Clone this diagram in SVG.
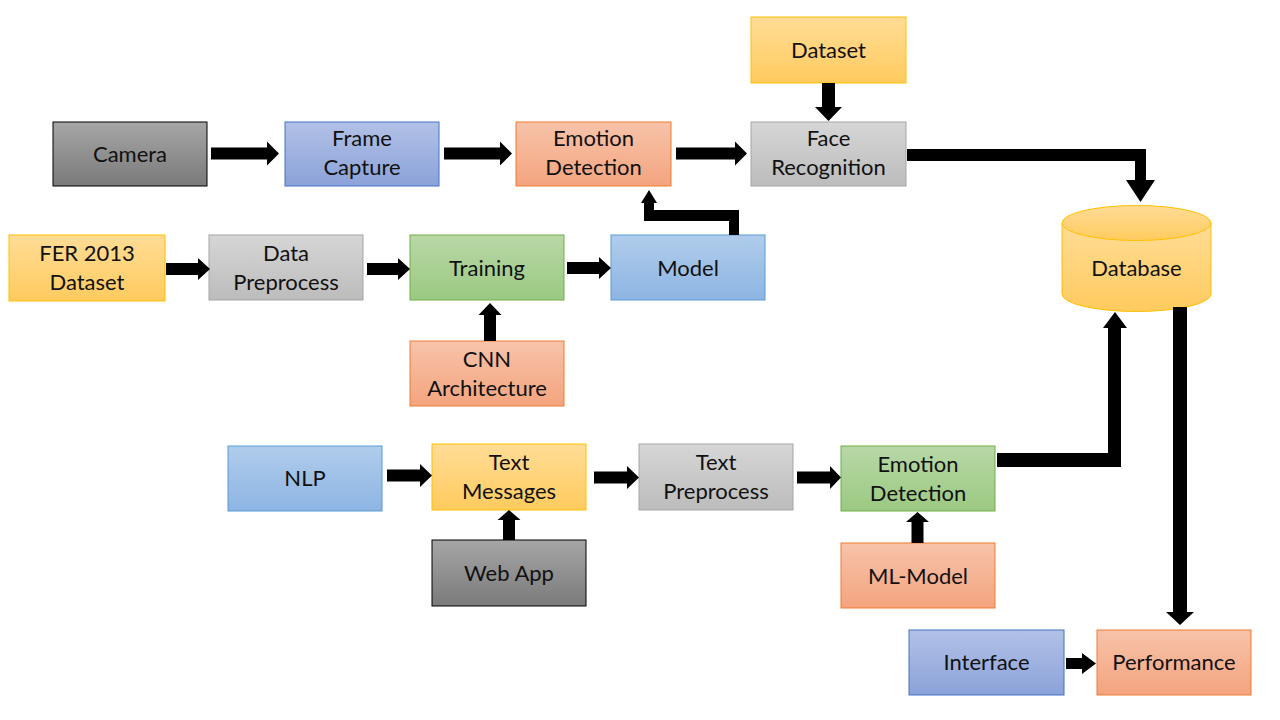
<svg xmlns="http://www.w3.org/2000/svg" width="1280" height="720" viewBox="0 0 1280 720">
<defs>
<linearGradient id="gDark" x1="0" y1="0" x2="0" y2="1"><stop offset="0" stop-color="#a6a6a6"/><stop offset="1" stop-color="#7a7a7a"/></linearGradient>
<linearGradient id="gBlue" x1="0" y1="0" x2="0" y2="1"><stop offset="0" stop-color="#b2c1e6"/><stop offset="1" stop-color="#8ba2d9"/></linearGradient>
<linearGradient id="gLBlue" x1="0" y1="0" x2="0" y2="1"><stop offset="0" stop-color="#b0cceb"/><stop offset="1" stop-color="#8db5e3"/></linearGradient>
<linearGradient id="gOrange" x1="0" y1="0" x2="0" y2="1"><stop offset="0" stop-color="#f7c3aa"/><stop offset="1" stop-color="#f4a47e"/></linearGradient>
<linearGradient id="gGray" x1="0" y1="0" x2="0" y2="1"><stop offset="0" stop-color="#d6d6d6"/><stop offset="1" stop-color="#bcbcbc"/></linearGradient>
<linearGradient id="gYellow" x1="0" y1="0" x2="0" y2="1"><stop offset="0" stop-color="#ffdc96"/><stop offset="1" stop-color="#ffcb5e"/></linearGradient>
<linearGradient id="gGreen" x1="0" y1="0" x2="0" y2="1"><stop offset="0" stop-color="#b8d8a6"/><stop offset="1" stop-color="#9bc982"/></linearGradient>
</defs>
<style>
.dark{fill:url(#gDark);stroke:#000;stroke-width:1}
.blue{fill:url(#gBlue);stroke:#4472c4;stroke-width:1}
.lblue{fill:url(#gLBlue);stroke:#5b9bd5;stroke-width:1}
.orange{fill:url(#gOrange);stroke:#ed7d31;stroke-width:1}
.gray{fill:url(#gGray);stroke:#a5a5a5;stroke-width:1}
.yellow{fill:url(#gYellow);stroke:#ffc000;stroke-width:1}
.green{fill:url(#gGreen);stroke:#70ad47;stroke-width:1}
text{font-family:Lato,"Open Sans","Liberation Sans",sans-serif;font-size:22px;fill:#111;text-anchor:middle}
.arr polygon{fill:#000}
</style>
<rect width="1280" height="720" fill="#fff"/>

<g id="camera"><rect class="dark" x="53" y="122" width="154" height="64"/><text x="130" y="162">Camera</text></g>
<g id="frame-capture"><rect class="blue" x="285" y="122" width="154" height="64"/><text x="362" y="146">Frame</text><text x="362" y="175">Capture</text></g>
<g id="emotion-detection-top"><rect class="orange" x="516" y="122" width="155" height="64"/><text x="593.5" y="146">Emotion</text><text x="593.5" y="175">Detection</text></g>
<g id="face-recognition"><rect class="gray" x="751" y="122" width="155" height="64"/><text x="828.5" y="146">Face</text><text x="828.5" y="175">Recognition</text></g>
<g id="dataset"><rect class="yellow" x="751" y="17" width="155" height="66"/><text x="828.5" y="58">Dataset</text></g>
<g id="fer2013"><rect class="yellow" x="9" y="235" width="156" height="66"/><text x="87" y="261">FER 2013</text><text x="87" y="290">Dataset</text></g>
<g id="data-preprocess"><rect class="gray" x="209" y="235" width="154" height="65"/><text x="286" y="261">Data</text><text x="286" y="290">Preprocess</text></g>
<g id="training"><rect class="green" x="410" y="235" width="154" height="65"/><text x="487" y="276">Training</text></g>
<g id="model"><rect class="lblue" x="611" y="235" width="154" height="65"/><text x="688" y="276">Model</text></g>
<g id="cnn"><rect class="orange" x="410" y="341" width="154" height="65"/><text x="487" y="367">CNN</text><text x="487" y="396">Architecture</text></g>
<g id="database">
<path class="yellow" d="M1062,223 L1062,294 A74.5,17.5 0 0 0 1211,294 L1211,223"/>
<ellipse class="yellow" cx="1136.5" cy="223" rx="74.5" ry="17.5"/>
<text x="1136.5" y="276">Database</text></g>
<g id="nlp"><rect class="lblue" x="228" y="446" width="154" height="65"/><text x="305" y="486">NLP</text></g>
<g id="text-messages"><rect class="yellow" x="432" y="444" width="154" height="66"/><text x="509" y="470">Text</text><text x="509" y="499">Messages</text></g>
<g id="text-preprocess"><rect class="gray" x="639" y="444" width="154" height="66"/><text x="716" y="470">Text</text><text x="716" y="499">Preprocess</text></g>
<g id="emotion-detection-bottom"><rect class="green" x="841" y="446" width="154" height="65"/><text x="918" y="472">Emotion</text><text x="918" y="501">Detection</text></g>
<g id="web-app"><rect class="dark" x="432" y="540" width="154" height="66"/><text x="509" y="581">Web App</text></g>
<g id="ml-model"><rect class="orange" x="841" y="543" width="154" height="65"/><text x="918" y="584">ML-Model</text></g>
<g id="interface"><rect class="blue" x="909" y="630" width="155" height="65"/><text x="986.5" y="670">Interface</text></g>
<g id="performance"><rect class="orange" x="1097" y="630" width="154" height="65"/><text x="1174" y="670">Performance</text></g>

<g id="connectors" class="arr">
<polygon points="211,147.5 267,147.5 267,141.5 279,153.5 267,165.5 267,159.5 211,159.5"/>
<polygon points="444,147.5 500,147.5 500,141.5 512,153.5 500,165.5 500,159.5 444,159.5"/>
<polygon points="676,147.5 735,147.5 735,141.5 747,153.5 735,165.5 735,159.5 676,159.5"/>
<polygon points="822,83 835,83 835,107 842,107 828.5,121 815,107 822,107"/>
<polygon points="907,149 1146,149 1146,180 1155,180 1140.5,202 1126,180 1135,180 1135,161 907,161"/>
<polygon points="649,190 657,203 654,203 654,210 739,210 739,235 729,235 729,221 644,221 644,203 641,203"/>
<polygon points="166,263 198,263 198,258 210,269 198,280 198,275 166,275"/>
<polygon points="367,263 398,263 398,258 410,269 398,280 398,275 367,275"/>
<polygon points="567,262 599,262 599,257 611,268 599,279 599,274 567,274"/>
<polygon points="484,341 484,315 478.5,315 490,303 501.5,315 496,315 496,341"/>
<polygon points="1173,307 1187,307 1187,612 1194,612 1180,625 1166,612 1173,612"/>
<polygon points="997,453 1108,453 1108,328 1103,328 1115,312 1127,328 1121,328 1121,467 997,467"/>
<polygon points="387,469.5 420,469.5 420,464 432,475.5 420,487 420,481.5 387,481.5"/>
<polygon points="594,471.5 627,471.5 627,466 639,477.5 627,489 627,483.5 594,483.5"/>
<polygon points="797,471.5 830,471.5 830,466 841,477.5 830,489 830,483.5 797,483.5"/>
<polygon points="503,540 503,520 497.5,520 509,510 520.5,520 515,520 515,540"/>
<polygon points="911.5,543 911.5,522 906,522 917.5,512 929,522 923.5,522 923.5,543"/>
<polygon points="1066,658 1082,658 1082,653 1096,663.5 1082,674 1082,669 1066,669"/>
</g>
</svg>
